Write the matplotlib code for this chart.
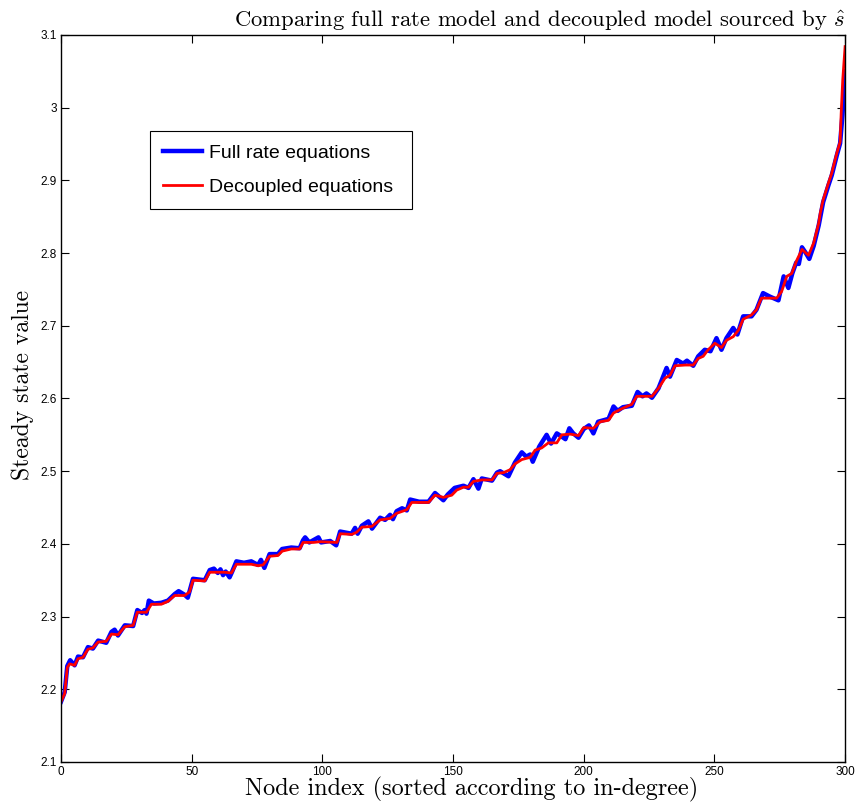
import numpy as np
import matplotlib
matplotlib.use("Agg")
from matplotlib import pyplot as plt

plt.rcParams['mathtext.fontset'] = 'cm'
plt.rcParams['axes.unicode_minus'] = False

# decoupled model, read as breakpoints along the node index
dec_x = [0, 1.4, 2.4, 3.3, 5.2, 6.5, 8.4, 10.3, 12.2, 14.2, 17.3, 19.3, 21.8, 24.4,
         27.6, 29.2, 32.7, 34.6, 38.4, 40.9, 43.5, 47.3, 49.2, 50.5, 55.0, 56.9, 62.6,
         65.2, 67.1, 72.8, 75.4, 77.3, 79.8, 83.0, 84.6, 88.1, 91.3, 92.6, 96.6, 99.1,
         105.6, 106.8, 111.2, 113.1, 115.1, 118.9, 122.1, 125.9, 128.4, 132.3, 134.2,
         140.6, 143.1, 146.3, 149.5, 151.4, 154.0, 155.9, 157.8, 161.0, 164.9, 166.8,
         169.3, 171.8, 173.7, 176.3, 179.5, 181.4, 183.9, 186.5, 189.7, 191.6, 194.8,
         198.0, 200.0, 203.7, 206.3, 209.5, 211.4, 214.6, 218.4, 220.3, 223.5, 226.1,
         228.6, 231.1, 233.0, 234.9, 238.8, 241.9, 243.8, 245.7, 247.6, 250.2, 252.7,
         254.6, 257.2, 259.2, 261.0, 264.2, 266.1, 268.0, 271.3, 273.8, 275.7, 277.7,
         279.6, 281.5, 283.5, 286.0, 288.0, 289.9, 290.5, 291.6, 293.6, 294.9, 296.8,
         298.1, 298.5, 299.1, 300.0]
dec_y = [2.183, 2.194, 2.230, 2.235, 2.233, 2.242, 2.244, 2.255, 2.257, 2.265, 2.266,
         2.276, 2.275, 2.286, 2.288, 2.306, 2.306, 2.317, 2.317, 2.321, 2.329, 2.329,
         2.334, 2.350, 2.349, 2.361, 2.361, 2.360, 2.372, 2.372, 2.370, 2.371, 2.383,
         2.384, 2.390, 2.393, 2.393, 2.402, 2.402, 2.403, 2.402, 2.414, 2.413, 2.416,
         2.423, 2.424, 2.433, 2.435, 2.442, 2.447, 2.457, 2.457, 2.467, 2.464, 2.467,
         2.474, 2.478, 2.478, 2.486, 2.488, 2.488, 2.497, 2.498, 2.502, 2.510, 2.516,
         2.519, 2.529, 2.532, 2.539, 2.539, 2.550, 2.551, 2.549, 2.560, 2.559, 2.568,
         2.570, 2.580, 2.586, 2.592, 2.603, 2.603, 2.603, 2.614, 2.628, 2.632, 2.645,
         2.646, 2.646, 2.655, 2.658, 2.667, 2.676, 2.670, 2.680, 2.685, 2.694, 2.709,
         2.715, 2.722, 2.738, 2.738, 2.738, 2.747, 2.768, 2.772, 2.790, 2.805, 2.797,
         2.814, 2.841, 2.855, 2.873, 2.896, 2.910, 2.937, 2.953, 2.992, 3.038, 3.084]

# full rate model, same nodes plus its extra wiggles
full_x = [0, 1.4, 2.4, 3.5, 5.2, 6.5, 8.4, 10.3, 12.2, 14.2, 17.3, 19.3, 20.5, 21.8,
          24.4, 27.6, 29.2, 31.0, 32.0, 32.7, 33.6, 35.5, 38.4, 40.9, 43.5, 45.0, 47.3,
          48.5, 50.5, 55.0, 56.9, 58.5, 60.0, 61.0, 62.0, 63.0, 64.5, 65.5, 67.1, 70.0,
          72.8, 75.4, 76.5, 77.8, 79.8, 83.0, 84.6, 88.1, 91.3, 92.6, 93.4, 95.0, 98.5,
          99.5, 103.0, 105.3, 106.8, 111.2, 112.5, 113.5, 115.1, 117.6, 119.0, 122.1,
          124.0, 125.9, 127.0, 128.4, 130.5, 132.3, 133.6, 137.0, 140.6, 143.1, 146.3,
          148.0, 150.6, 154.0, 155.9, 157.8, 159.7, 161.0, 164.9, 166.8, 168.0, 171.2,
          173.7, 176.3, 178.0, 179.5, 180.5, 183.0, 185.8, 187.5, 189.7, 191.0, 193.0,
          194.5, 196.0, 198.0, 200.0, 202.0, 203.7, 205.5, 209.5, 211.4, 213.0, 215.0,
          218.4, 220.6, 222.5, 224.0, 226.1, 228.6, 231.7, 233.0, 235.6, 238.0, 239.5,
          241.9, 243.8, 246.3, 248.5, 250.8, 252.7, 254.6, 257.2, 258.8, 261.0, 264.2,
          266.1, 268.6, 271.3, 274.5, 276.5, 278.3, 279.8, 281.3, 282.3, 283.5, 285.0,
          286.3, 288.0, 289.9, 291.6, 293.6, 294.9, 296.8, 298.1, 299.0, 300.0]
full_y = [2.183, 2.196, 2.232, 2.240, 2.233, 2.245, 2.244, 2.258, 2.256, 2.267, 2.264,
          2.279, 2.282, 2.274, 2.288, 2.287, 2.309, 2.305, 2.309, 2.304, 2.322, 2.318,
          2.319, 2.322, 2.331, 2.335, 2.330, 2.326, 2.352, 2.350, 2.364, 2.366, 2.360,
          2.365, 2.357, 2.362, 2.354, 2.362, 2.376, 2.374, 2.376, 2.371, 2.378, 2.367,
          2.386, 2.386, 2.393, 2.395, 2.394, 2.405, 2.409, 2.402, 2.409, 2.402, 2.404,
          2.398, 2.417, 2.414, 2.422, 2.414, 2.425, 2.431, 2.421, 2.436, 2.433, 2.440,
          2.434, 2.445, 2.449, 2.446, 2.461, 2.458, 2.458, 2.470, 2.460, 2.468, 2.477,
          2.480, 2.477, 2.489, 2.476, 2.490, 2.487, 2.498, 2.500, 2.493, 2.512, 2.526,
          2.520, 2.523, 2.513, 2.534, 2.550, 2.538, 2.552, 2.549, 2.544, 2.559, 2.552,
          2.546, 2.558, 2.563, 2.552, 2.568, 2.572, 2.589, 2.583, 2.588, 2.590, 2.609,
          2.603, 2.607, 2.601, 2.614, 2.642, 2.630, 2.653, 2.648, 2.652, 2.645, 2.658,
          2.667, 2.665, 2.683, 2.667, 2.683, 2.697, 2.688, 2.713, 2.713, 2.722, 2.745,
          2.740, 2.735, 2.768, 2.752, 2.772, 2.787, 2.785, 2.808, 2.800, 2.792, 2.810,
          2.838, 2.870, 2.893, 2.907, 2.934, 2.951, 2.990, 3.050]

xticks = [0, 50, 100, 150, 200, 250, 300]
yticks = [2.1, 2.2, 2.3, 2.4, 2.5, 2.6, 2.7, 2.8, 2.9, 3.0, 3.1]
ytick_labels = ['2.1', '2.2', '2.3', '2.4', '2.5', '2.6', '2.7', '2.8', '2.9', '3', '3.1']

tick_font = ['Liberation Sans Narrow', 'Liberation Sans', 'DejaVu Sans']

fig = plt.figure(figsize=(8.57, 8.06), dpi=100)
ax = fig.add_axes([0.0712, 0.0546, 0.9149, 0.902])

ax.plot(full_x, full_y, c='#0000ff', lw=3.2, label='Full rate equations', solid_joinstyle='round')
ax.plot(dec_x, dec_y, c='#ff0000', lw=2.0, label='Decoupled equations', solid_joinstyle='round')

ax.set_xlim(0, 300)
ax.set_ylim(2.1, 3.1)
ax.set_xticks(xticks)
ax.set_yticks(yticks)
ax.set_yticklabels(ytick_labels)
ax.tick_params(direction='in', top=True, right=True, length=6, width=0.8,
               labelsize=8.5, pad=3)
for lab in ax.get_xticklabels() + ax.get_yticklabels():
    lab.set_family(tick_font)
for s in ax.spines.values():
    s.set_linewidth(1.0)

ax.set_title(r'Comparing full rate model and decoupled model sourced by $\hat{s}$',
             fontfamily='cmr10', fontsize=16.3, x=0.611, pad=6)
ax.set_xlabel('Node index (sorted according to in-degree)', fontfamily='cmr10',
              fontsize=17.5, x=0.524, labelpad=-1)
ax.set_ylabel('Steady state value', fontfamily='cmr10', fontsize=17, y=0.518,
              labelpad=5)

leg = ax.legend(loc='upper left', bbox_to_anchor=(0.1135, 0.761, 0.334, 0.107),
                mode='expand', borderaxespad=0,
                fancybox=False, edgecolor='k', framealpha=1,
                prop={'family': ['Liberation Sans', 'DejaVu Sans'], 'size': 14},
                handlelength=2.0, handletextpad=0.36, borderpad=0.68, labelspacing=0.86)
leg.get_frame().set_linewidth(0.8)

fig.set_facecolor('w')
plt.savefig('out.png', dpi=100)
